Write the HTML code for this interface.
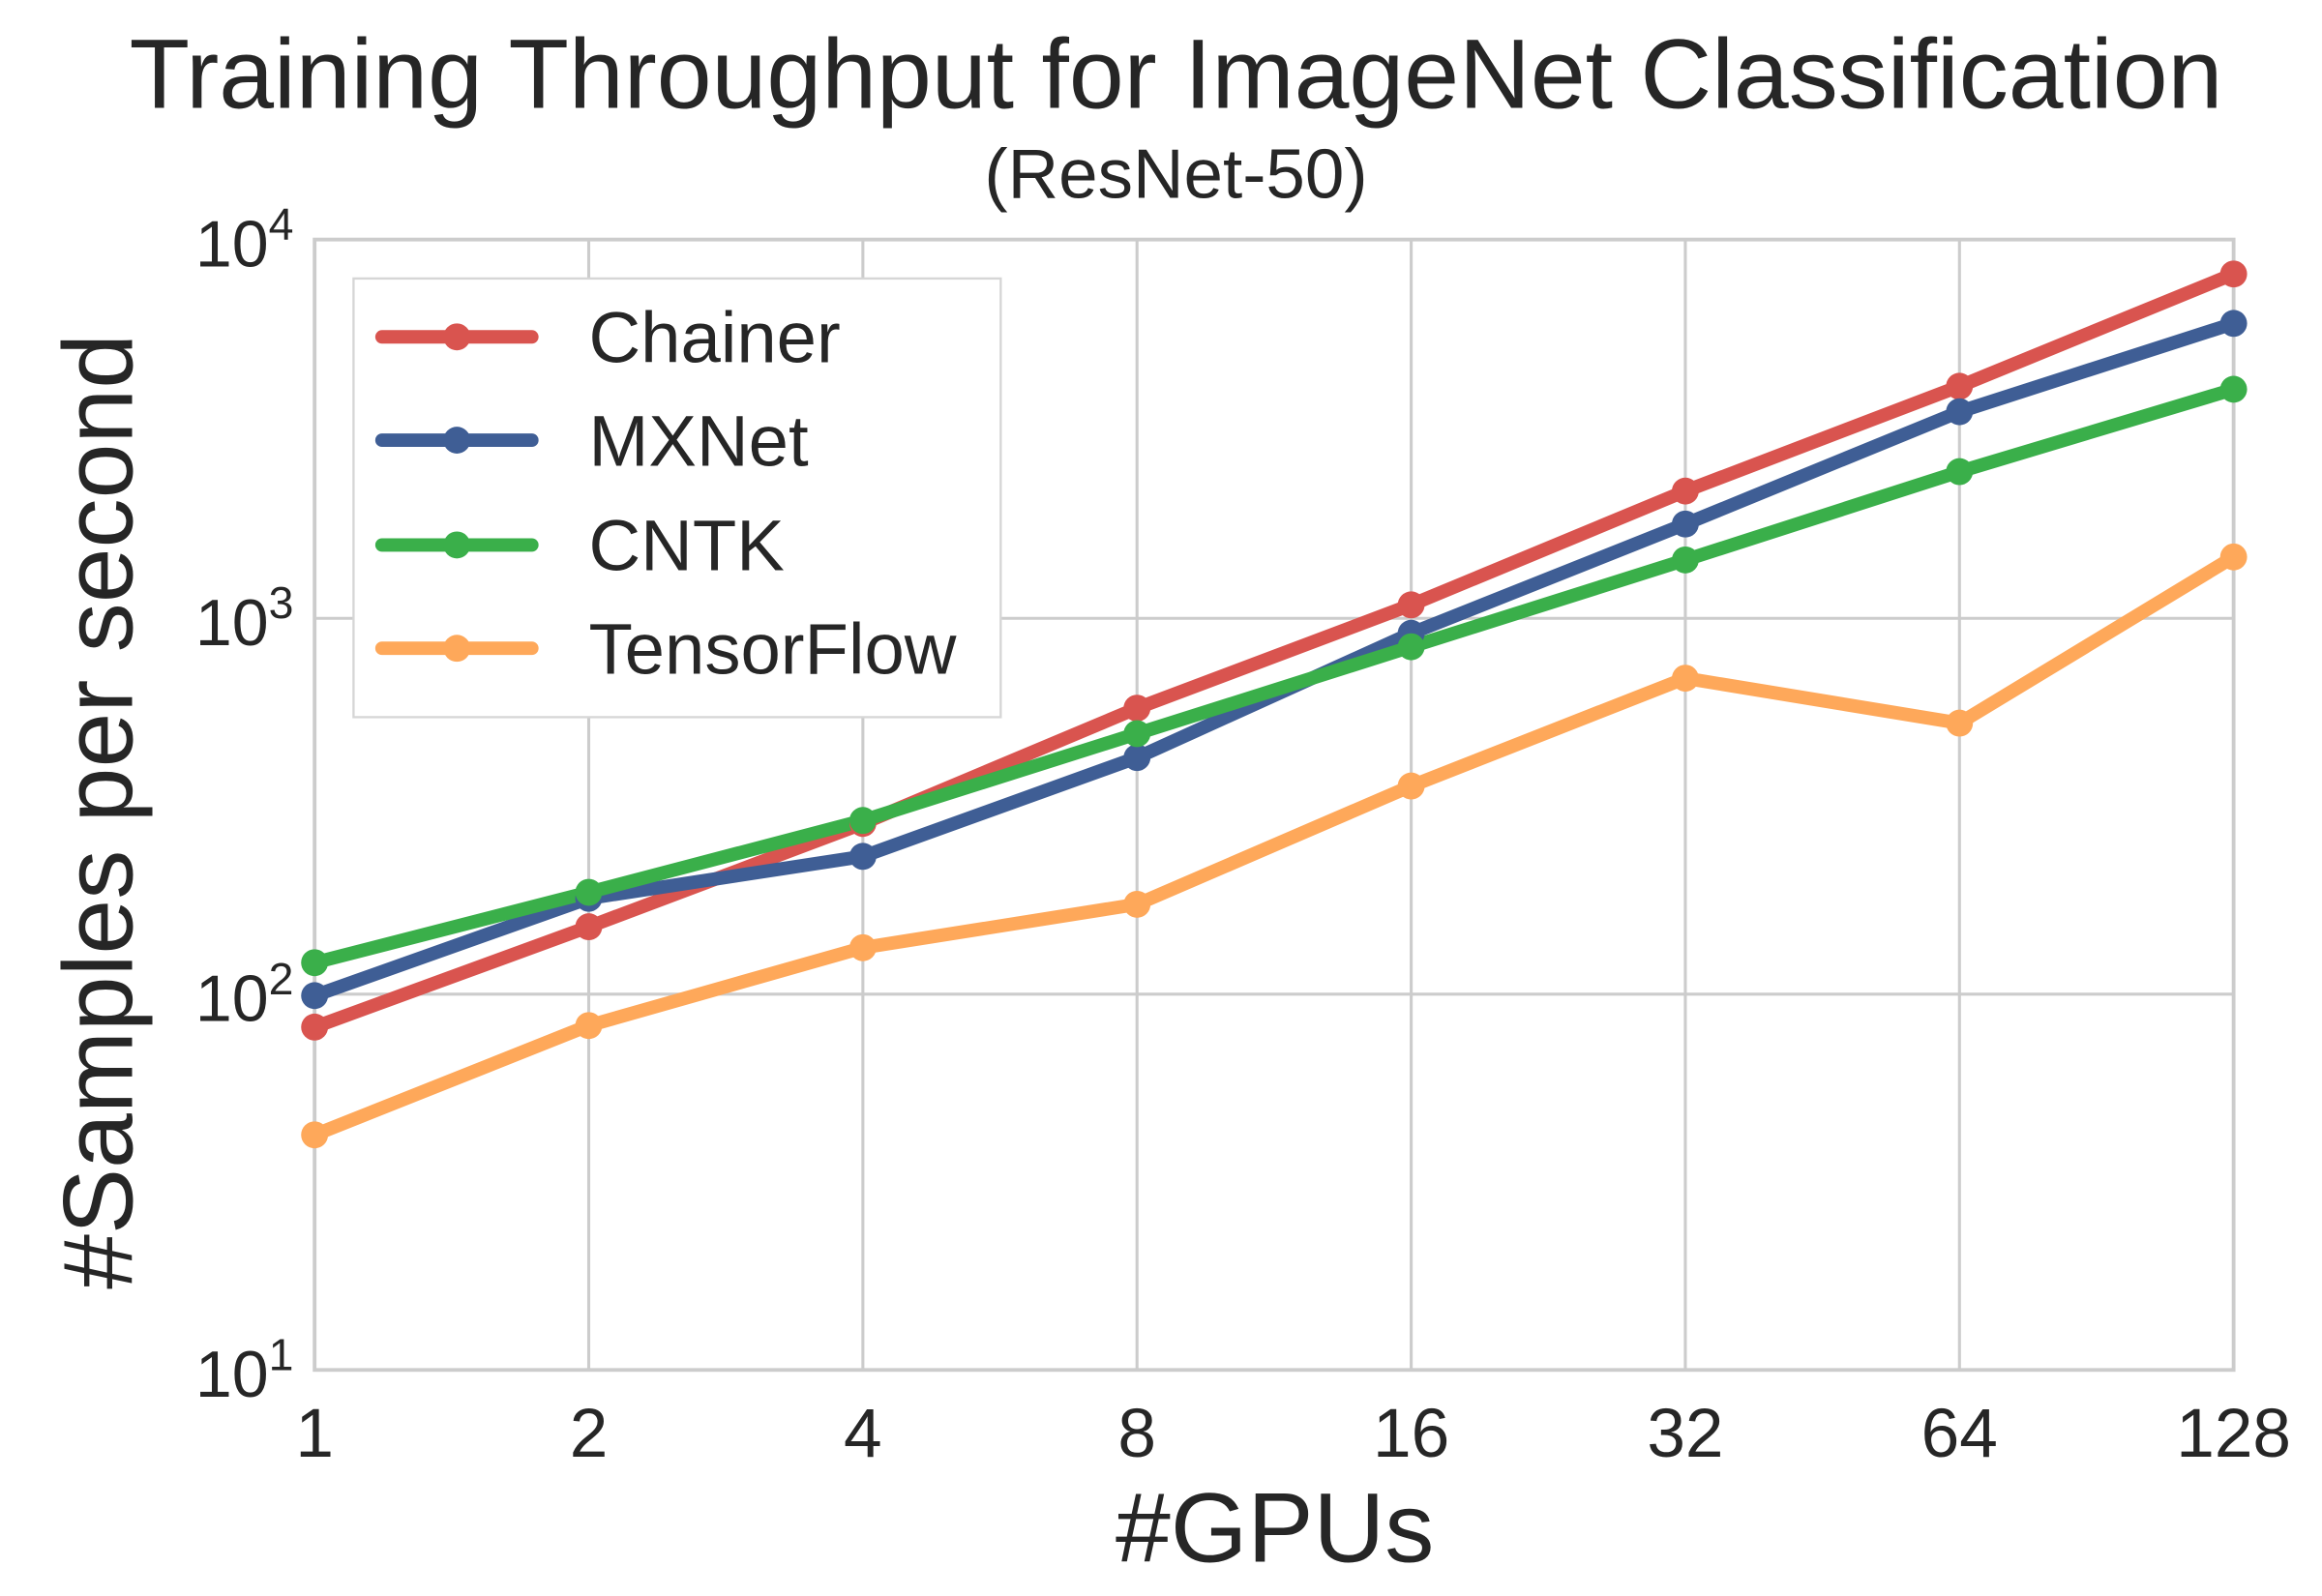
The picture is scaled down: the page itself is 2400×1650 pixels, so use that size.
<!DOCTYPE html>
<html><head><meta charset="utf-8"><style>html,body{margin:0;padding:0;background:#fff}svg{display:block}</style></head>
<body>
<svg width="2400" height="1650" viewBox="0 0 1550 1066" preserveAspectRatio="none" xmlns="http://www.w3.org/2000/svg" font-family="Liberation Sans, sans-serif" fill="#262626">
<rect width="1550" height="1066" fill="#fff"/>
<g stroke="#cccccc" stroke-width="2">
<line x1="393" y1="160" x2="393" y2="915"/><line x1="576" y1="160" x2="576" y2="915"/><line x1="759" y1="160" x2="759" y2="915"/><line x1="942" y1="160" x2="942" y2="915"/><line x1="1125" y1="160" x2="1125" y2="915"/><line x1="1308" y1="160" x2="1308" y2="915"/>
<line x1="210" y1="413" x2="1491" y2="413"/><line x1="210" y1="664" x2="1491" y2="664"/>
<rect x="210" y="160" width="1281" height="755" fill="none" stroke-width="2.5"/>
</g>
<g fill="none" stroke-width="9" stroke-linejoin="round" stroke-linecap="round">
<polyline stroke="#d9544f" points="210,686 393,619 576,550 759,473 942,404 1125,328 1308,258 1491,183"/>
<polyline stroke="#3f5e95" points="210,665 393,600 576,572 759,506 942,423 1125,350 1308,275 1491,216"/>
<polyline stroke="#3aaf4a" points="210,643 393,596 576,548 759,490 942,432 1125,374 1308,315 1491,260"/>
<polyline stroke="#fea85a" points="210,758 393,685 576,633 759,604 942,525 1125,453 1308,483 1491,372"/>
</g>
<g fill="#d9544f"><circle cx="210" cy="686" r="9"/><circle cx="393" cy="619" r="9"/><circle cx="576" cy="550" r="9"/><circle cx="759" cy="473" r="9"/><circle cx="942" cy="404" r="9"/><circle cx="1125" cy="328" r="9"/><circle cx="1308" cy="258" r="9"/><circle cx="1491" cy="183" r="9"/></g>
<g fill="#3f5e95"><circle cx="210" cy="665" r="9"/><circle cx="393" cy="600" r="9"/><circle cx="576" cy="572" r="9"/><circle cx="759" cy="506" r="9"/><circle cx="942" cy="423" r="9"/><circle cx="1125" cy="350" r="9"/><circle cx="1308" cy="275" r="9"/><circle cx="1491" cy="216" r="9"/></g>
<g fill="#3aaf4a"><circle cx="210" cy="643" r="9"/><circle cx="393" cy="596" r="9"/><circle cx="576" cy="548" r="9"/><circle cx="759" cy="490" r="9"/><circle cx="942" cy="432" r="9"/><circle cx="1125" cy="374" r="9"/><circle cx="1308" cy="315" r="9"/><circle cx="1491" cy="260" r="9"/></g>
<g fill="#fea85a"><circle cx="210" cy="758" r="9"/><circle cx="393" cy="685" r="9"/><circle cx="576" cy="633" r="9"/><circle cx="759" cy="604" r="9"/><circle cx="942" cy="525" r="9"/><circle cx="1125" cy="453" r="9"/><circle cx="1308" cy="483" r="9"/><circle cx="1491" cy="372" r="9"/></g>
<rect x="236" y="186" width="432" height="293" fill="#fff" stroke="#d6d6d6" stroke-width="1.5"/>
<g stroke-width="9" stroke-linecap="round">
<line x1="255" y1="225" x2="355" y2="225" stroke="#d9544f"/><circle cx="305" cy="225" r="9" fill="#d9544f"/>
<line x1="255" y1="294" x2="355" y2="294" stroke="#3f5e95"/><circle cx="305" cy="294" r="9" fill="#3f5e95"/>
<line x1="255" y1="364" x2="355" y2="364" stroke="#3aaf4a"/><circle cx="305" cy="364" r="9" fill="#3aaf4a"/>
<line x1="255" y1="433" x2="355" y2="433" stroke="#fea85a"/><circle cx="305" cy="433" r="9" fill="#fea85a"/>
</g>
<g font-size="48">
<text x="393" y="242">Chainer</text><text x="393" y="311">MXNet</text><text x="393" y="381">CNTK</text><text x="393" y="450">TensorFlow</text>
</g>
<text x="785" y="72" font-size="66" text-anchor="middle">Training Throughput for ImageNet Classification</text>
<text x="785" y="132" font-size="47" text-anchor="middle">(ResNet-50)</text>
<g font-size="44" text-anchor="end">
<text x="196" y="178">10<tspan font-size="30" dy="-18">4</tspan></text>
<text x="196" y="431">10<tspan font-size="30" dy="-18">3</tspan></text>
<text x="196" y="682">10<tspan font-size="30" dy="-18">2</tspan></text>
<text x="196" y="933">10<tspan font-size="30" dy="-18">1</tspan></text>
</g>
<g font-size="46" text-anchor="middle">
<text x="210" y="973">1</text><text x="393" y="973">2</text><text x="576" y="973">4</text><text x="759" y="973">8</text><text x="942" y="973">16</text><text x="1125" y="973">32</text><text x="1308" y="973">64</text><text x="1491" y="973">128</text>
</g>
<text x="851" y="1043" font-size="66" text-anchor="middle">#GPUs</text>
<text transform="translate(88,542) rotate(-90)" font-size="66" text-anchor="middle">#Samples per second</text>
</svg>
</body></html>
